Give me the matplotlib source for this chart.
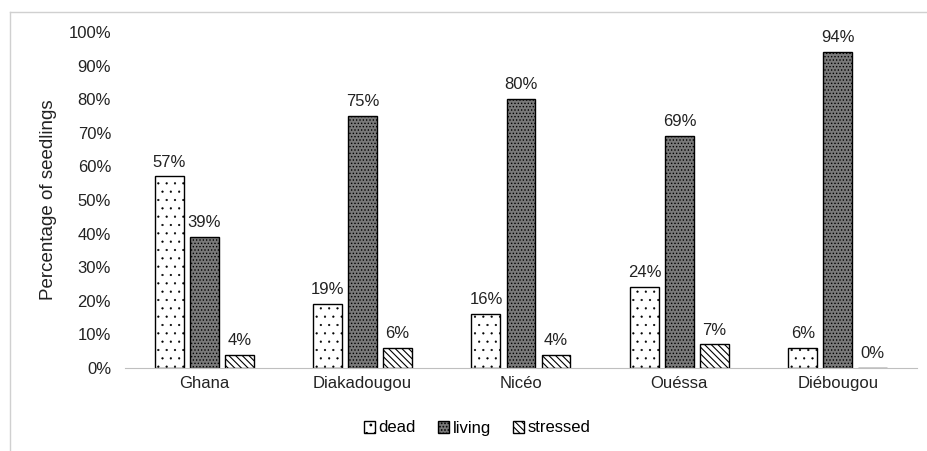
import matplotlib
matplotlib.use("Agg")
import matplotlib.pyplot as plt
import numpy as np
from matplotlib.lines import Line2D

plt.rcParams['font.family'] = ['Liberation Sans', 'DejaVu Sans']

categories = ["Ghana", "Diakadougou", "Nicéo", "Ouéssa", "Diébougou"]
dead = [57, 19, 16, 24, 6]
living = [39, 75, 80, 69, 94]
stressed = [4, 6, 4, 7, 0]
series_names = ["dead", "living", "stressed"]
yticks = [0, 10, 20, 30, 40, 50, 60, 70, 80, 90, 100]

fig = plt.figure(figsize=(9.28, 4.51), dpi=100)
ax = fig.add_axes([125/928, 1-368/451, (917-125)/928, (368-32)/451])

x = np.arange(len(categories))
w = 0.183
off = 0.221
styles = [
    dict(facecolor='white', hatch='..', edgecolor='black'),
    dict(facecolor='#7a7a7a', hatch='.....', edgecolor='black'),
    dict(facecolor='white', hatch='\\\\\\\\\\', edgecolor='black'),
]
hatch_lw = [0.35, 0.6, 0.8]
data = [dead, living, stressed]
for i, (vals, st, name) in enumerate(zip(data, styles, series_names)):
    plt.rcParams['hatch.linewidth'] = hatch_lw[i]
    bars = ax.bar(x + (i-1)*off, vals, width=w, label=name, linewidth=1.0, **st)
    for b, v in zip(bars, vals):
        ax.annotate(f"{v}%", (b.get_x()+b.get_width()/2, v), xytext=(0, 5),
                    textcoords='offset points', ha='center', va='bottom',
                    fontsize=12, color='#222222')

ax.set_xlim(-0.5, len(categories)-0.5)
ax.set_ylim(0, 100)
ax.set_yticks(yticks)
ax.set_yticklabels([f"{t}%" for t in yticks], fontsize=12, color='#222222')
ax.set_xticks(x)
ax.set_xticklabels(categories, fontsize=12, color='#222222')
ax.tick_params(axis='both', length=0, pad=6)
ax.tick_params(axis='y', pad=10)
for s in ['top', 'right', 'left']:
    ax.spines[s].set_visible(False)
ax.spines['bottom'].set_color('#bfbfbf')
ax.set_ylabel("Percentage of seedlings", fontsize=13.5, color='#222222', labelpad=8)

leg = fig.legend(loc='center', bbox_to_anchor=(477/928, 1-428/451), ncol=3, frameon=False,
                 fontsize=12, handlelength=0.7, handleheight=0.7, handletextpad=0.2,
                 columnspacing=1.3)

fig.add_artist(Line2D([10/928, 1], [1-12/451, 1-12/451], color='#d0d0d0', lw=1))
fig.add_artist(Line2D([10/928, 10/928], [0, 1-12/451], color='#d0d0d0', lw=1))

fig.savefig("out.png", dpi=100)
